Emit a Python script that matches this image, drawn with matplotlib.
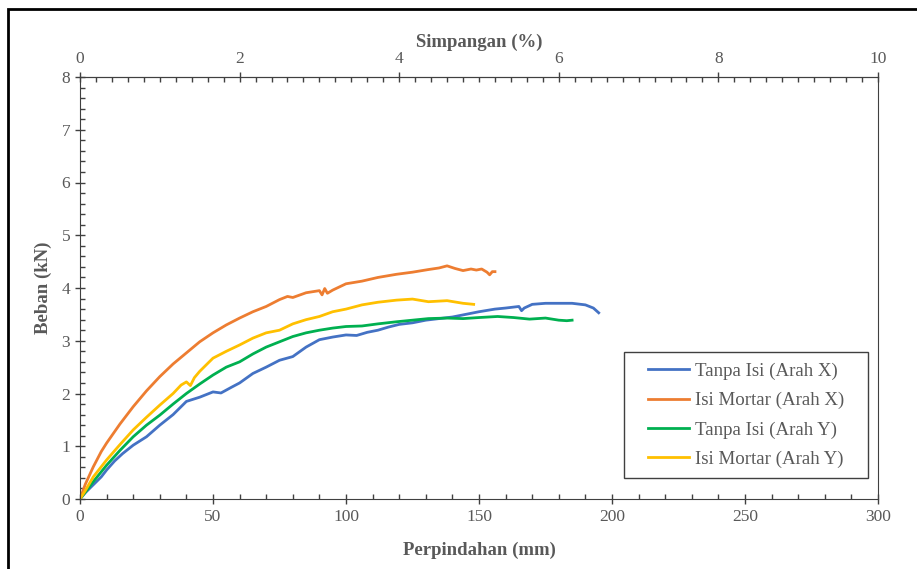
import matplotlib.pyplot as plt
from matplotlib.patches import Rectangle
from matplotlib.ticker import MultipleLocator

plt.rcParams['font.family'] = ['Liberation Serif', 'DejaVu Serif']

# Tanpa Isi (Arah X)
x_tx = [0, 2, 5, 8, 10, 13, 16, 20, 25, 30, 35, 40, 45, 50, 53, 57, 60, 65, 70, 75, 80, 85, 90, 95, 100, 104,
        108, 112, 116, 120, 125, 130, 135, 140, 144, 150, 156, 160, 165, 166, 167, 170, 175, 180, 185, 190, 193, 195]
y_tx = [0, 0.12, 0.27, 0.42, 0.55, 0.72, 0.86, 1.02, 1.18, 1.40, 1.60, 1.85, 1.93, 2.03, 2.01, 2.12, 2.20, 2.38, 2.50, 2.63, 2.70, 2.88, 3.02, 3.07, 3.11, 3.10,
        3.16, 3.20, 3.26, 3.31, 3.34, 3.39, 3.42, 3.45, 3.49, 3.55, 3.60, 3.62, 3.65, 3.57, 3.62, 3.69, 3.71, 3.71, 3.71, 3.68, 3.62, 3.53]

# Isi Mortar (Arah X)
x_mx = [0, 2, 5, 8, 10, 15, 20, 25, 30, 35, 40, 45, 50, 55, 60, 65, 70, 75, 78, 80, 85, 90, 91, 92, 93, 95, 100,
        106, 112, 119, 125, 131, 135, 138, 141, 144, 147, 149, 151, 153, 154, 155, 156]
y_mx = [0, 0.28, 0.61, 0.90, 1.06, 1.42, 1.75, 2.05, 2.32, 2.56, 2.77, 2.98, 3.15, 3.30, 3.43, 3.55, 3.65, 3.78, 3.84, 3.82, 3.91, 3.95, 3.87, 3.99, 3.90, 3.96, 4.08,
        4.13, 4.20, 4.26, 4.30, 4.35, 4.38, 4.42, 4.37, 4.33, 4.36, 4.34, 4.36, 4.30, 4.25, 4.31, 4.31]

# Tanpa Isi (Arah Y)
x_ty = [0, 2, 5, 10, 15, 20, 25, 30, 35, 40, 45, 50, 55, 60, 65, 70, 75, 80, 85, 90, 95, 100, 106, 112, 119,
        125, 131, 138, 144, 150, 157, 163, 169, 175, 180, 183, 185]
y_ty = [0, 0.13, 0.33, 0.64, 0.92, 1.18, 1.40, 1.59, 1.80, 2.00, 2.18, 2.35, 2.50, 2.60, 2.75, 2.88, 2.98, 3.08, 3.15, 3.20, 3.24, 3.27, 3.28, 3.32, 3.36,
        3.39, 3.42, 3.43, 3.42, 3.44, 3.46, 3.44, 3.41, 3.43, 3.39, 3.38, 3.39]

# Isi Mortar (Arah Y)
x_my = [0, 2, 5, 10, 15, 20, 25, 30, 35, 38, 40, 41.5, 43, 45, 50, 55, 60, 65, 70, 75, 80, 85, 90, 95, 100,
        106, 112, 119, 125, 131, 138, 144, 148]
y_my = [0, 0.16, 0.42, 0.74, 1.03, 1.31, 1.55, 1.78, 2.00, 2.16, 2.22, 2.15, 2.30, 2.42, 2.67, 2.80, 2.92, 3.05, 3.15, 3.20, 3.32, 3.40, 3.46, 3.55, 3.60,
        3.68, 3.73, 3.77, 3.79, 3.74, 3.76, 3.71, 3.69]

gray = '#595959'
W, H = 917, 569
fig = plt.figure(figsize=(W / 100, H / 100), dpi=100)
ax = fig.add_axes([80/W, 1 - 499/H, 798/W, 422/H])

ax.plot(x_tx, y_tx, color='#4472C4', lw=2, label='Tanpa Isi (Arah X)')
ax.plot(x_mx, y_mx, color='#ED7D31', lw=2, label='Isi Mortar (Arah X)')
ax.plot(x_ty, y_ty, color='#00B050', lw=2, label='Tanpa Isi (Arah Y)')
ax.plot(x_my, y_my, color='#FFC000', lw=2, label='Isi Mortar (Arah Y)')

ax.set_xlim(0, 300)
ax.set_ylim(0, 8)
ax.xaxis.set_major_locator(MultipleLocator(50))
ax.xaxis.set_minor_locator(MultipleLocator(10))
ax.yaxis.set_major_locator(MultipleLocator(1))
ax.yaxis.set_minor_locator(MultipleLocator(0.2))
ax.tick_params(which='major', direction='inout', length=7, width=1, color='#404040',
               labelsize=12.5, labelcolor=gray)
ax.tick_params(which='minor', direction='in', length=3.5, width=1, color='#404040')
for s in ax.spines.values():
    s.set_color('#404040')

top = ax.secondary_xaxis('top', functions=(lambda v: v / 30, lambda v: v * 30))
top.xaxis.set_major_locator(MultipleLocator(2))
top.xaxis.set_minor_locator(MultipleLocator(0.2))
top.tick_params(which='major', direction='inout', length=7, width=1, color='#404040',
                labelsize=12.5, labelcolor=gray)
top.tick_params(which='minor', direction='in', length=3.5, width=1, color='#404040')
top.spines['top'].set_color('#404040')
top.set_xlabel('Simpangan (%)', fontsize=13.5, fontweight='bold', color=gray, labelpad=3)

ax.set_xlabel('Perpindahan (mm)', fontsize=13.5, fontweight='bold', color=gray, labelpad=12)
ax.set_ylabel('Beban (kN)', fontsize=13.5, fontweight='bold', color=gray, labelpad=7)

# legend without frame, box drawn around it with wider side padding
padx, pady = 24, 10
leg = ax.legend(loc='lower right', bbox_to_anchor=((868 - padx - 80) / 798, (499 - 478 + pady) / 422),
                fontsize=13.6, frameon=False, labelcolor=gray, handlelength=2.2,
                handletextpad=0.3, borderpad=0, borderaxespad=0, labelspacing=0.64)
fig.canvas.draw()
bb = leg.get_window_extent()
fig.patches.append(Rectangle(((bb.x0 - padx) / W, (bb.y0 - pady) / H),
                             (bb.width + 2 * padx) / W, (bb.height + 2 * pady) / H,
                             transform=fig.transFigure, fill=False, lw=1, edgecolor='#404040'))

fig.patches.append(Rectangle((8/W, -0.1), 1.2, (H - 9)/H + 0.1, transform=fig.transFigure,
                             fill=False, lw=2, edgecolor='black'))

fig.savefig('out.png', dpi=100)
